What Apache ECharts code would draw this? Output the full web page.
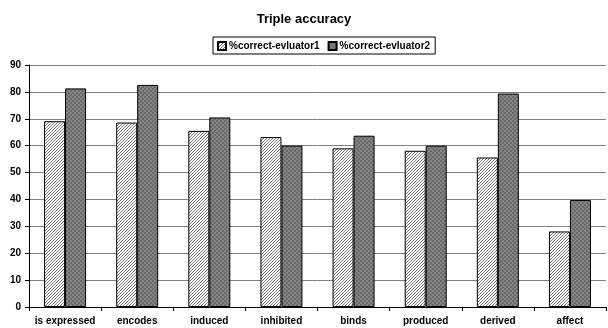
<!DOCTYPE html>
<html><head><meta charset="utf-8">
<script src="https://cdn.jsdelivr.net/npm/echarts@6/dist/echarts.min.js"></script>
<style>html,body{margin:0;padding:0;background:#fff}#c{width:608px;height:328px}</style>
</head><body><div id="c"></div>
<script>
var categories = ['is expressed','encodes','induced','inhibited','binds','produced','derived','affect'];
var evaluator1 = [69.1, 68.6, 65.5, 63.2, 59.0, 58.1, 55.6, 28.1];
var evaluator2 = [81.3, 82.6, 70.5, 60.0, 63.7, 60.0, 79.4, 39.8];
var seriesNames = ['%correct-evluator1', '%correct-evluator2'];
var yTicks = {min: 0, max: 90, interval: 10};

function hatch() {
  var c = document.createElement('canvas'); c.width = 3; c.height = 3;
  var g = c.getContext('2d');
  g.fillStyle = '#ffffff'; g.fillRect(0,0,3,3);
  g.fillStyle = '#7a7a7a';
  g.fillRect(0,2,1,1); g.fillRect(1,1,1,1); g.fillRect(2,0,1,1);
  return c;
}
function checker() {
  var c = document.createElement('canvas'); c.width = 4; c.height = 4;
  var g = c.getContext('2d');
  g.fillStyle = '#848484'; g.fillRect(0,0,4,4);
  g.fillStyle = '#6a6a6a'; g.fillRect(0,0,2,2); g.fillRect(2,2,2,2);
  return c;
}
var p1 = {image: hatch(), repeat: 'repeat'};
var p2 = {image: checker(), repeat: 'repeat'};

var chart = echarts.init(document.getElementById('c'), null, {renderer: 'canvas'});
var font = 'Liberation Sans, Arial, sans-serif';
chart.setOption({
  animation: false,
  title: {
    text: 'Triple accuracy', left: 'center', top: 8,
    textStyle: {fontFamily: font, fontSize: 13, fontWeight: 'bold', color: '#000'}
  },
  legend: {
    left: 213, top: 37, padding: [4, 5, 3, 4],
    borderColor: '#000', borderWidth: 1,
    itemWidth: 8, itemHeight: 8, itemGap: 8,
    icon: 'rect',
    textStyle: {fontFamily: font, fontSize: 10, fontWeight: 'bold', color: '#000', padding: [0,0,0,-2]},
    data: seriesNames
  },
  grid: {left: 29, right: 2, top: 65, bottom: 21, containLabel: false},
  xAxis: {
    type: 'category', data: categories,
    axisLine: {lineStyle: {color: '#000', width: 1}},
    axisTick: {show: true, inside: false, length: 4, lineStyle: {color: '#000'}},
    axisLabel: {interval: 0, fontFamily: font, fontSize: 10, fontWeight: 'bold', color: '#000', margin: 9}
  },
  yAxis: {
    type: 'value', min: yTicks.min, max: yTicks.max, interval: yTicks.interval,
    axisLine: {show: true, lineStyle: {color: '#000', width: 1}},
    axisTick: {show: true, length: 4, lineStyle: {color: '#000'}},
    axisLabel: {fontFamily: font, fontSize: 10, fontWeight: 'bold', color: '#000', margin: 8},
    splitLine: {lineStyle: {color: '#808080', width: 1}}
  },
  series: [
    {name: seriesNames[0], type: 'bar', data: evaluator1, barWidth: 21, barGap: '0%',
     itemStyle: {color: p1, borderColor: '#000', borderWidth: 1}},
    {name: seriesNames[1], type: 'bar', data: evaluator2, barWidth: 21,
     itemStyle: {color: p2, borderColor: '#000', borderWidth: 1}}
  ]
});
</script></body></html>
